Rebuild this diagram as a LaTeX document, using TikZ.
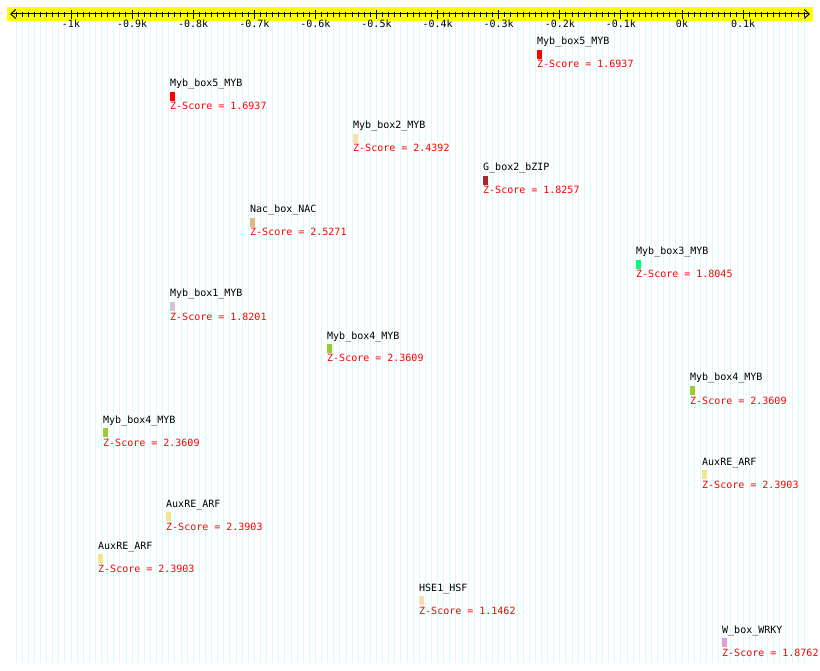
\documentclass[tikz,border=0pt]{standalone}
\usepackage{fontspec}
\setmonofont{DejaVu Sans Mono}
\usetikzlibrary{arrows.meta}

\definecolor{gridcyan}{RGB}{212,252,252}
\definecolor{bandyellow}{RGB}{255,255,0}
\definecolor{motifred}{RGB}{255,0,0}
\definecolor{motifpeach}{RGB}{255,222,173}
\definecolor{motiftan}{RGB}{222,184,135}
\definecolor{motifthistle}{RGB}{216,191,216}
\definecolor{motifbrown}{RGB}{165,42,42}
\definecolor{motifgreen}{RGB}{0,255,127}
\definecolor{motifolive}{RGB}{154,205,50}
\definecolor{motifkhaki}{RGB}{240,230,140}
\definecolor{motifwheat}{RGB}{245,222,179}
\definecolor{motifplum}{RGB}{221,160,221}

\tikzset{
  pxfont/.style={font=\ttfamily\fontsize{10}{10}\selectfont, inner sep=0pt},
  motiflabel/.style={pxfont, anchor=base west, text=black},
  scorelabel/.style={pxfont, anchor=base west, text=motifred},
  ticklabel/.style={pxfont, anchor=base},
  gridline/.style={gridcyan, line width=0.9pt},
}

\begin{document}
\begin{tikzpicture}[x=1pt, y=-1pt]
    \useasboundingbox (0,0) rectangle (820,671);
    \fill[white] (0,0) rectangle (820,671);

    % Grid lines, one per 10 bp (0 bp at x=682, 0.611 px per bp)
    \foreach \p in {-1090,-1080,...,200}
        \draw[gridline] ({682+0.611*\p},21) -- ({682+0.611*\p},663);

    % Axis band
    \fill[bandyellow] (7,7) rectangle (813,21);
    \coordinate (axl) at (10,14);
    \coordinate (axr) at (810,14);
    \draw[line width=1pt, {Straight Barb[length=5pt,width=9pt]}-{Straight Barb[length=5pt,width=9pt]}] (axl) -- (axr);

    % Minor and major ticks
    \foreach \p in {-1090,-1080,...,200}
        \draw[line width=1pt] ({682+0.611*\p},12) -- ({682+0.611*\p},17);
    \foreach \p/\t [count=\k] in {-1000/-1k,-900/-0.9k,-800/-0.8k,-700/-0.7k,-600/-0.6k,
                    -500/-0.5k,-400/-0.4k,-300/-0.3k,-200/-0.2k,-100/-0.1k,0/0k,100/0.1k} {
        \draw[line width=1pt] ({682+0.611*\p},10) -- ({682+0.611*\p},19);
        \node[ticklabel] (tick\k) at ({682+0.611*\p},28) {\t};
    }

    % Motif hits: x start, name, colour, score (one row every 42 px)
    \foreach \x/\name/\col/\score [count=\r from 0] in {
        537/Myb\_box5\_MYB/motifred/1.6937,
        170/Myb\_box5\_MYB/motifred/1.6937,
        353/Myb\_box2\_MYB/motifpeach/2.4392,
        483/G\_box2\_bZIP/motifbrown/1.8257,
        250/Nac\_box\_NAC/motiftan/2.5271,
        636/Myb\_box3\_MYB/motifgreen/1.8045,
        170/Myb\_box1\_MYB/motifthistle/1.8201,
        327/Myb\_box4\_MYB/motifolive/2.3609,
        690/Myb\_box4\_MYB/motifolive/2.3609,
        103/Myb\_box4\_MYB/motifolive/2.3609,
        702/AuxRE\_ARF/motifkhaki/2.3903,
        166/AuxRE\_ARF/motifkhaki/2.3903,
        98/AuxRE\_ARF/motifkhaki/2.3903,
        419/HSE1\_HSF/motifwheat/1.1462,
        722/W\_box\_WRKY/motifplum/1.8762} {
        \pgfmathsetmacro{\y}{43+42*\r}
        \node[motiflabel] (name\r) at (\x,\y+2) {\name};
        \fill[\col] (\x,\y+7) rectangle ++(5,9);
        \node[scorelabel] (score\r) at (\x,\y+25) {Z-Score = \score};
    }
\end{tikzpicture}
\end{document}
